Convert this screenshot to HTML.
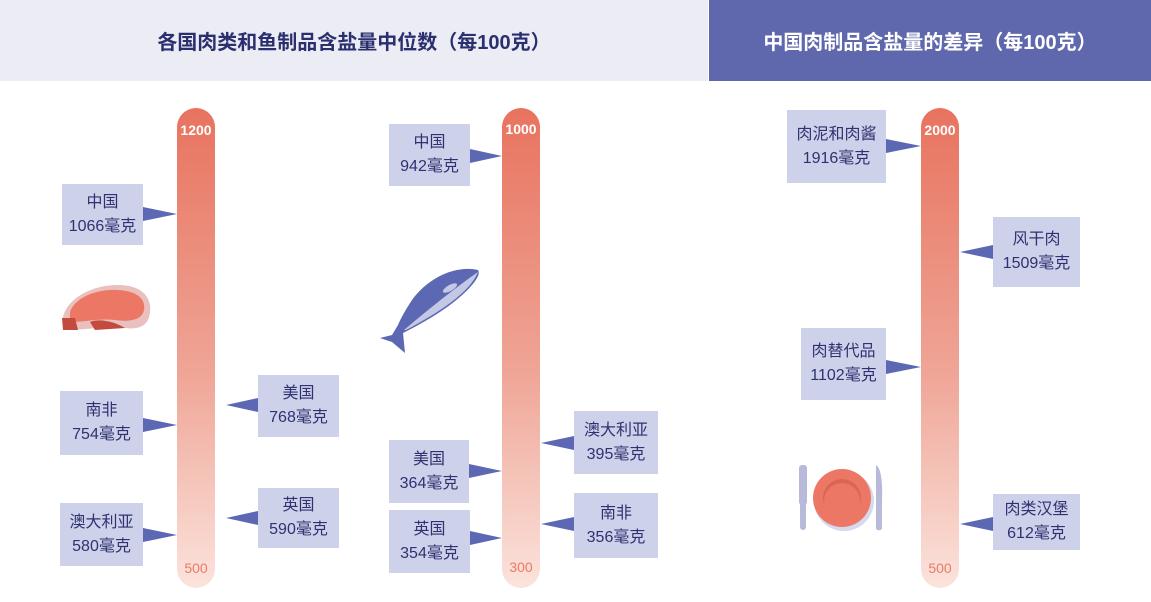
<!DOCTYPE html>
<html><head><meta charset="utf-8"><style>
body{margin:0;width:1151px;height:602px;background:#fff;position:relative;overflow:hidden;font-family:"Liberation Sans","Noto Sans CJK SC",sans-serif}
.h{position:absolute;top:0;height:81px;display:flex;align-items:center;justify-content:center;font-weight:bold;font-size:20px}
.bar{position:absolute;top:108px;width:38px;height:480px;border-radius:19px;background:linear-gradient(#e8735f,#efa596 55%,#fbe3dc)}
.bar span{position:absolute;left:0;width:38px;text-align:center;font-size:14px;font-weight:bold}
.b{position:absolute;background:#cdd1ea;color:#2e3270;font-size:16px;line-height:24px;display:flex;flex-direction:column;align-items:center;justify-content:center}
svg{position:absolute;left:0;top:0}
</style></head><body>
<div class="h" style="left:0;width:708px;background:#ececf5;color:#2a2f6e">各国肉类和鱼制品含盐量中位数（每100克）</div>
<div class="h" style="left:709px;width:442px;background:#6068ad;color:#fff">中国肉制品含盐量的差异（每100克）</div>
<div class="bar" style="left:177px"><span style="top:14px;color:#fff">1200</span><span style="top:452px;color:#ec7a66;font-weight:normal">500</span></div>
<div class="bar" style="left:502px"><span style="top:13px;color:#fff">1000</span><span style="top:451px;color:#ec7a66;font-weight:normal">300</span></div>
<div class="bar" style="left:921px"><span style="top:14px;color:#fff">2000</span><span style="top:452px;color:#ec7a66;font-weight:normal">500</span></div>

<div class="b" style="left:62px;top:184px;width:81px;height:61px"><div>中国</div><div>1066毫克</div></div>
<div class="b" style="left:60px;top:391px;width:83px;height:64px"><div>南非</div><div>754毫克</div></div>
<div class="b" style="left:60px;top:503px;width:83px;height:63px"><div>澳大利亚</div><div>580毫克</div></div>
<div class="b" style="left:258px;top:375px;width:81px;height:62px"><div>美国</div><div>768毫克</div></div>
<div class="b" style="left:258px;top:488px;width:81px;height:60px"><div>英国</div><div>590毫克</div></div>
<div class="b" style="left:389px;top:124px;width:81px;height:62px"><div>中国</div><div>942毫克</div></div>
<div class="b" style="left:389px;top:440px;width:80px;height:63px"><div>美国</div><div>364毫克</div></div>
<div class="b" style="left:389px;top:510px;width:81px;height:63px"><div>英国</div><div>354毫克</div></div>
<div class="b" style="left:574px;top:411px;width:84px;height:63px"><div>澳大利亚</div><div>395毫克</div></div>
<div class="b" style="left:574px;top:493px;width:84px;height:65px"><div>南非</div><div>356毫克</div></div>
<div class="b" style="left:787px;top:110px;width:99px;height:73px"><div>肉泥和肉酱</div><div>1916毫克</div></div>
<div class="b" style="left:801px;top:328px;width:85px;height:72px"><div>肉替代品</div><div>1102毫克</div></div>
<div class="b" style="left:993px;top:217px;width:87px;height:70px"><div>风干肉</div><div>1509毫克</div></div>
<div class="b" style="left:993px;top:494px;width:87px;height:56px"><div>肉类汉堡</div><div>612毫克</div></div>

<svg width="1151" height="602" fill="#5c68b3">
<polygon points="143,207 177,214 143,221"/>
<polygon points="143,418 177,425 143,432"/>
<polygon points="143,528 177,535 143,542"/>
<polygon points="258,398 226,405 258,412"/>
<polygon points="258,511 226,518 258,525"/>
<polygon points="470,149 502,156 470,163"/>
<polygon points="469,464 502,471 469,478"/>
<polygon points="470,531 502,538 470,545"/>
<polygon points="574,436 541,443 574,450"/>
<polygon points="574,517 541,524 574,531"/>
<polygon points="886,139 921,146 886,153"/>
<polygon points="886,360 921,367 886,374"/>
<polygon points="993,245 960,252 993,259"/>
<polygon points="993,517 960,524 993,531"/>
<!-- steak -->
<path d="M63,318 C66,300 90,285 118,285 C140,285 152,296 150,312 C149,325 140,330 125,328 C105,326 85,330 63,330 Z" fill="#e9c0bd"/>
<path d="M70,312 C75,298 95,289 118,290 C138,291 146,300 144,310 C142,320 130,322 115,320 C100,318 85,322 70,322 Z" fill="#eb7764"/>
<path d="M62,318 L75,318 L78,330 L63,330 Z M90,322 C100,318 115,322 125,328 L95,330 Z" fill="#c24a3e"/>
<!-- fish -->
<path d="M478,270 C455,265 428,278 412,300 C406,309 401,318 398,325 L392,335 L380,338 L392,342 L405,353 L403,333 C425,322 455,305 472,285 C478,278 480,273 478,270 Z" fill="#5c68b3"/>
<path d="M478,272 C470,292 440,312 406,330 L404,330 C430,308 455,288 478,272 Z" fill="#c3c8e4"/>
<ellipse cx="450" cy="288" rx="8" ry="3" transform="rotate(-30 450 288)" fill="#c3c8e4"/>
<!-- plate -->
<rect x="799" y="465" width="8" height="40" rx="3" fill="#b7bad9"/>
<rect x="800" y="500" width="6" height="30" rx="3" fill="#b7bad9"/>
<path d="M876,465 C884,470 882,500 882,500 L882,528 C882,531 876,531 876,528 Z" fill="#b7bad9"/>
<circle cx="844" cy="501" r="30" fill="#d7d9ee"/>
<circle cx="842" cy="498" r="29" fill="#eb7764"/>
<circle cx="842" cy="498" r="19" fill="#d96553"/>
<circle cx="842" cy="501" r="18" fill="#eb7764"/>
</svg>
</body></html>
